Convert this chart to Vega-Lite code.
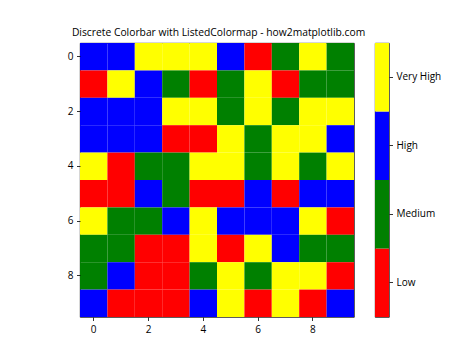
{
  "$schema": "https://vega.github.io/schema/vega-lite/v6.json",
  "background": "white",
  "padding": {"left": 66, "top": 28, "right": 5, "bottom": 5},
  "config": {
    "font": "Open Sans",
    "view": {"stroke": "black", "strokeWidth": 0.8},
    "axis": {"domain": false, "grid": false, "ticks": true, "tickColor": "black", "tickSize": 3.5, "tickWidth": 0.8, "labelFontSize": 10, "labelColor": "black", "labelPadding": 3.5, "title": null, "labelFont": "Open Sans"},
    "concat": {"spacing": 19}
  },
  "title": {"text": "Discrete Colorbar with ListedColormap - how2matplotlib.com", "fontSize": 10.3, "fontWeight": "normal", "font": "Open Sans", "color": "black", "anchor": "start", "offset": 4, "dx": 5},
  "datasets": {
    "grid": [
      {"row":0,"col":0,"level":"High"},{"row":0,"col":1,"level":"High"},{"row":0,"col":2,"level":"Very High"},{"row":0,"col":3,"level":"Very High"},{"row":0,"col":4,"level":"Very High"},{"row":0,"col":5,"level":"High"},{"row":0,"col":6,"level":"Low"},{"row":0,"col":7,"level":"Medium"},{"row":0,"col":8,"level":"Very High"},{"row":0,"col":9,"level":"Medium"},
      {"row":1,"col":0,"level":"Low"},{"row":1,"col":1,"level":"Very High"},{"row":1,"col":2,"level":"High"},{"row":1,"col":3,"level":"Medium"},{"row":1,"col":4,"level":"Low"},{"row":1,"col":5,"level":"Medium"},{"row":1,"col":6,"level":"Very High"},{"row":1,"col":7,"level":"Low"},{"row":1,"col":8,"level":"Medium"},{"row":1,"col":9,"level":"Medium"},
      {"row":2,"col":0,"level":"High"},{"row":2,"col":1,"level":"High"},{"row":2,"col":2,"level":"High"},{"row":2,"col":3,"level":"Very High"},{"row":2,"col":4,"level":"Very High"},{"row":2,"col":5,"level":"Medium"},{"row":2,"col":6,"level":"Very High"},{"row":2,"col":7,"level":"Medium"},{"row":2,"col":8,"level":"Very High"},{"row":2,"col":9,"level":"Very High"},
      {"row":3,"col":0,"level":"High"},{"row":3,"col":1,"level":"High"},{"row":3,"col":2,"level":"High"},{"row":3,"col":3,"level":"Low"},{"row":3,"col":4,"level":"Low"},{"row":3,"col":5,"level":"Very High"},{"row":3,"col":6,"level":"Medium"},{"row":3,"col":7,"level":"Very High"},{"row":3,"col":8,"level":"Very High"},{"row":3,"col":9,"level":"High"},
      {"row":4,"col":0,"level":"Very High"},{"row":4,"col":1,"level":"Low"},{"row":4,"col":2,"level":"Medium"},{"row":4,"col":3,"level":"Medium"},{"row":4,"col":4,"level":"Very High"},{"row":4,"col":5,"level":"Very High"},{"row":4,"col":6,"level":"Medium"},{"row":4,"col":7,"level":"Very High"},{"row":4,"col":8,"level":"Medium"},{"row":4,"col":9,"level":"Very High"},
      {"row":5,"col":0,"level":"Low"},{"row":5,"col":1,"level":"Low"},{"row":5,"col":2,"level":"High"},{"row":5,"col":3,"level":"Medium"},{"row":5,"col":4,"level":"Low"},{"row":5,"col":5,"level":"Low"},{"row":5,"col":6,"level":"High"},{"row":5,"col":7,"level":"Low"},{"row":5,"col":8,"level":"High"},{"row":5,"col":9,"level":"High"},
      {"row":6,"col":0,"level":"Very High"},{"row":6,"col":1,"level":"Medium"},{"row":6,"col":2,"level":"Medium"},{"row":6,"col":3,"level":"High"},{"row":6,"col":4,"level":"Very High"},{"row":6,"col":5,"level":"High"},{"row":6,"col":6,"level":"High"},{"row":6,"col":7,"level":"High"},{"row":6,"col":8,"level":"Very High"},{"row":6,"col":9,"level":"Low"},
      {"row":7,"col":0,"level":"Medium"},{"row":7,"col":1,"level":"Medium"},{"row":7,"col":2,"level":"Low"},{"row":7,"col":3,"level":"Low"},{"row":7,"col":4,"level":"Very High"},{"row":7,"col":5,"level":"Low"},{"row":7,"col":6,"level":"Very High"},{"row":7,"col":7,"level":"High"},{"row":7,"col":8,"level":"Medium"},{"row":7,"col":9,"level":"Medium"},
      {"row":8,"col":0,"level":"Medium"},{"row":8,"col":1,"level":"High"},{"row":8,"col":2,"level":"Low"},{"row":8,"col":3,"level":"Low"},{"row":8,"col":4,"level":"Medium"},{"row":8,"col":5,"level":"Very High"},{"row":8,"col":6,"level":"Medium"},{"row":8,"col":7,"level":"Very High"},{"row":8,"col":8,"level":"Very High"},{"row":8,"col":9,"level":"Low"},
      {"row":9,"col":0,"level":"High"},{"row":9,"col":1,"level":"Low"},{"row":9,"col":2,"level":"Low"},{"row":9,"col":3,"level":"Low"},{"row":9,"col":4,"level":"High"},{"row":9,"col":5,"level":"Very High"},{"row":9,"col":6,"level":"Low"},{"row":9,"col":7,"level":"Very High"},{"row":9,"col":8,"level":"Low"},{"row":9,"col":9,"level":"High"}
    ],
    "levels": [
      {"level": "Low"}, {"level": "Medium"}, {"level": "High"}, {"level": "Very High"}
    ]
  },
  "hconcat": [
    {
      "width": 274,
      "height": 274,
      "data": {"name": "grid"},
      "mark": {"type": "rect", "strokeWidth": 0},
      "encoding": {
        "x": {"field": "col", "type": "ordinal", "scale": {"paddingInner": 0, "paddingOuter": 0}, "axis": {"orient": "bottom", "values": [0, 2, 4, 6, 8], "labelAngle": 0}},
        "y": {"field": "row", "type": "ordinal", "scale": {"paddingInner": 0, "paddingOuter": 0}, "axis": {"orient": "left", "values": [0, 2, 4, 6, 8]}},
        "color": {"field": "level", "type": "nominal", "scale": {"domain": ["Low", "Medium", "High", "Very High"], "range": ["#ff0000", "#008000", "#0000ff", "#ffff00"]}, "legend": null}
      }
    },
    {
      "width": 14,
      "height": 274,
      "data": {"name": "levels"},
      "mark": {"type": "rect", "strokeWidth": 0},
      "encoding": {
        "y": {"field": "level", "type": "nominal", "sort": ["Very High", "High", "Medium", "Low"], "scale": {"paddingInner": 0, "paddingOuter": 0}, "axis": {"orient": "right"}},
        "color": {"field": "level", "type": "nominal", "scale": {"domain": ["Low", "Medium", "High", "Very High"], "range": ["#ff0000", "#008000", "#0000ff", "#ffff00"]}, "legend": null}
      }
    }
  ]
}
